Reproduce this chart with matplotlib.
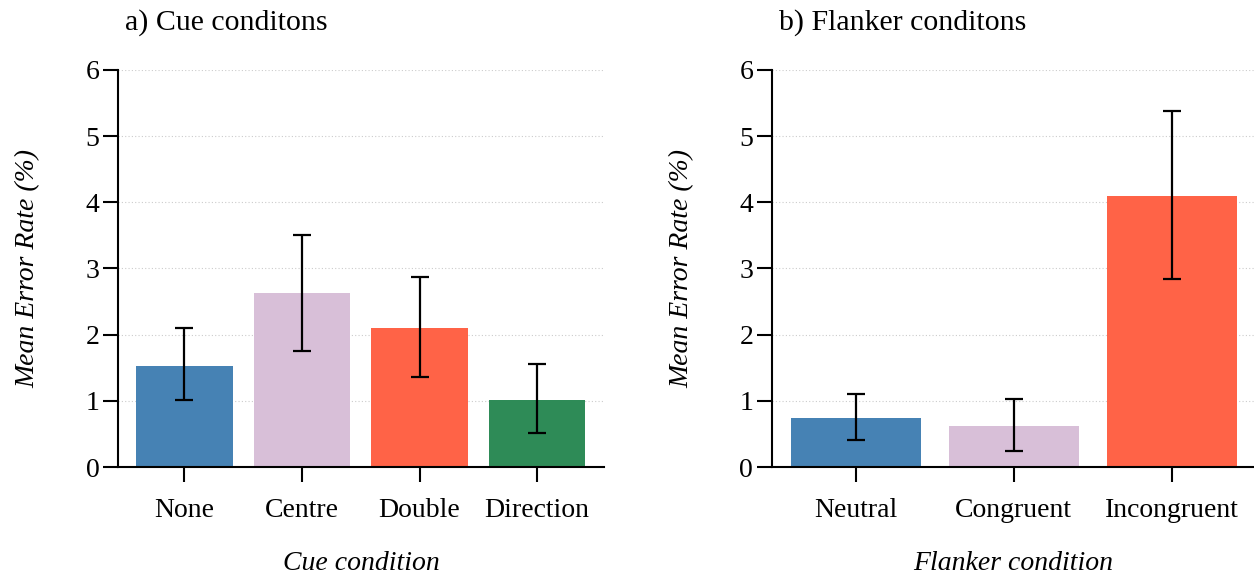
import numpy as np
import matplotlib
matplotlib.use("Agg")
import matplotlib.pyplot as plt

plt.rcParams.update({
    "font.family": "Liberation Serif",
    "font.size": 20,
    "axes.linewidth": 1.5,
    "xtick.major.width": 1.5,
    "ytick.major.width": 1.5,
    "xtick.major.size": 10.5,
    "ytick.major.size": 10.5,
    "xtick.major.pad": 12,
    "ytick.major.pad": 3,
})

# error rates (%) with lower / upper CI limits
cue_labels = ["None", "Centre", "Double", "Direction"]
cue_mean = [1.53, 2.63, 2.10, 1.01]
cue_lo = [1.01, 1.75, 1.36, 0.51]
cue_hi = [2.10, 3.50, 2.87, 1.56]
cue_colors = ["#4682B4", "#D8BFD8", "#FF6347", "#2E8B57"]

flk_labels = ["Neutral", "Congruent", "Incongruent"]
flk_mean = [0.74, 0.62, 4.09]
flk_lo = [0.41, 0.24, 2.84]
flk_hi = [1.10, 1.03, 5.38]
flk_colors = ["#4682B4", "#D8BFD8", "#FF6347"]


def draw_panel(ax, labels, mean, lo, hi, colors, xlabel, title, xlim):
    x = np.arange(len(labels))
    mean = np.array(mean)
    yerr = [mean - np.array(lo), np.array(hi) - mean]
    ax.set_axisbelow(True)
    ax.yaxis.grid(True, linestyle=(0, (1, 2)), color="#cccccc", linewidth=0.8)
    ax.bar(x, mean, width=0.82, color=colors, zorder=2)
    ax.errorbar(x, mean, yerr=yerr, fmt="none", ecolor="black",
                elinewidth=1.6, capsize=6.5, capthick=1.6, zorder=3)
    ax.set_xticks(x)
    ax.set_xticklabels(labels)
    ax.set_xlim(*xlim)
    ax.set_ylim(0, 6)
    ax.set_yticks(range(7))
    ax.set_ylabel("Mean Error Rate (%)", style="italic", labelpad=32)
    ax.set_xlabel(xlabel, style="italic", labelpad=20)
    ax.set_title(title, loc="left", x=0.015, pad=29, fontsize=21.5)
    ax.spines["right"].set_visible(False)
    ax.spines["top"].set_visible(False)


fig = plt.figure(figsize=(12.54, 5.75), dpi=100)
ax1 = fig.add_axes([0.0941, 0.1878, 0.3876, 0.6905])
ax2 = fig.add_axes([0.6156, 0.1878, 0.3844, 0.6905])

draw_panel(ax1, cue_labels, cue_mean, cue_lo, cue_hi, cue_colors,
           "Cue condition", "a) Cue conditons", (-0.565, 3.57))
draw_panel(ax2, flk_labels, flk_mean, flk_lo, flk_hi, flk_colors,
           "Flanker condition", "b) Flanker conditons", (-0.53, 2.52))

fig.savefig("out.png", dpi=100)
plt.close(fig)
